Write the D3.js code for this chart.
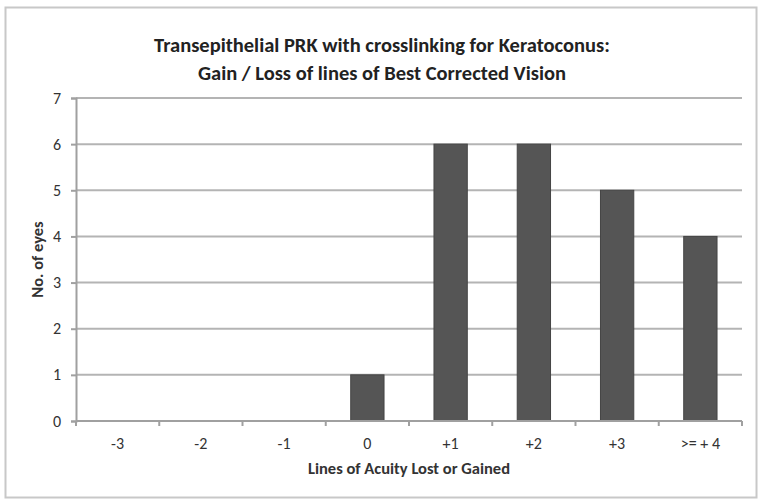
<!DOCTYPE html>
<html>
<meta charset="utf-8">
<body style="margin:0;background:#fff">
<script src="https://d3js.org/d3.v7.min.js"></script>
<script>
// chart data
var categories = ["-3", "-2", "-1", "0", "+1", "+2", "+3", ">= + 4"];
var eyes = [0, 0, 0, 1, 6, 6, 5, 4];
var yTicks = [0, 1, 2, 3, 4, 5, 6, 7];

var width = 764, height = 504;
var margin = {top: 98, right: 22, bottom: 83, left: 76};
var font = "Carlito, Calibri, Lato, 'Open Sans', sans-serif";

var svg = d3.select("body").append("svg")
  .attr("width", width)
  .attr("height", height)
  .style("font-family", font);

// outer frame
svg.append("rect")
  .attr("x", 5.5).attr("y", 7.5)
  .attr("width", 751).attr("height", 490)
  .attr("fill", "#fff")
  .attr("stroke", "#c8c8c8")
  .attr("stroke-width", 2);

var x = d3.scaleBand()
  .domain(categories)
  .range([margin.left, width - margin.right])
  .paddingInner(0.6)
  .paddingOuter(0.3);

var xEdge = d3.scaleLinear()
  .domain([0, categories.length])
  .range([margin.left, width - margin.right]);

var y = d3.scaleLinear()
  .domain([0, 7])
  .range([height - margin.bottom, margin.top]);

// gridlines
svg.append("g")
  .selectAll("line")
  .data(yTicks.slice(1))
  .enter().append("line")
  .attr("x1", margin.left)
  .attr("x2", width - margin.right)
  .attr("y1", function(d) { return y(d); })
  .attr("y2", function(d) { return y(d); })
  .style("stroke", "#b4b4b4")
  .style("stroke-width", 2);

// y axis
var yAxis = svg.append("g")
  .attr("transform", "translate(" + margin.left + ",0)")
  .call(d3.axisLeft(y).tickValues(yTicks).tickFormat(d3.format("d")).tickSize(5).tickPadding(10));
yAxis.select(".domain").style("stroke", "#a0a0a0").style("stroke-width", 2);
yAxis.selectAll(".tick line").style("stroke", "#a0a0a0").style("stroke-width", 2);
yAxis.selectAll("text").style("font-size", "16px").style("fill", "#333").style("font-family", font);

// bars
svg.append("g")
  .selectAll("rect")
  .data(eyes)
  .enter().append("rect")
  .attr("x", function(d, i) { return x(categories[i]); })
  .attr("width", x.bandwidth())
  .attr("y", function(d) { return y(d); })
  .attr("height", function(d) { return y(0) - y(d); })
  .style("fill", "#555555")
  .style("stroke", "#444")
  .style("stroke-width", 1);

// x axis
var x0 = y(0);
svg.append("line")
  .attr("x1", margin.left).attr("x2", width - margin.right)
  .attr("y1", x0).attr("y2", x0)
  .style("stroke", "#a0a0a0").style("stroke-width", 2);

svg.append("g")
  .selectAll("line")
  .data(d3.range(categories.length + 1))
  .enter().append("line")
  .attr("x1", function(d) { return xEdge(d); })
  .attr("x2", function(d) { return xEdge(d); })
  .attr("y1", x0)
  .attr("y2", x0 + 5)
  .style("stroke", "#a0a0a0").style("stroke-width", 2);

svg.append("g")
  .selectAll("text")
  .data(categories)
  .enter().append("text")
  .attr("x", function(d) { return x(d) + x.bandwidth() / 2; })
  .attr("y", x0 + 28)
  .attr("text-anchor", "middle")
  .style("font-size", "16px")
  .style("fill", "#333")
  .text(function(d) { return d; });

// axis titles
svg.append("text")
  .attr("x", (margin.left + width - margin.right) / 2)
  .attr("y", x0 + 53)
  .attr("text-anchor", "middle")
  .style("font-size", "16.5px")
  .style("font-weight", "bold")
  .style("fill", "#333")
  .text("Lines of Acuity Lost or Gained");

svg.append("text")
  .attr("transform", "translate(43," + ((margin.top + x0) / 2) + ") rotate(-90)")
  .attr("text-anchor", "middle")
  .style("font-size", "16.5px")
  .style("font-weight", "bold")
  .style("fill", "#333")
  .text("No. of eyes");

// title
var title = ["Transepithelial PRK with crosslinking for Keratoconus:", "Gain / Loss of lines of Best Corrected Vision"];
svg.append("g")
  .selectAll("text")
  .data(title)
  .enter().append("text")
  .attr("x", 382)
  .attr("y", function(d, i) { return 52 + i * 28; })
  .attr("text-anchor", "middle")
  .style("font-size", "20.5px")
  .style("font-weight", "bold")
  .style("fill", "#222")
  .text(function(d) { return d; });
</script>
</body>
</html>
